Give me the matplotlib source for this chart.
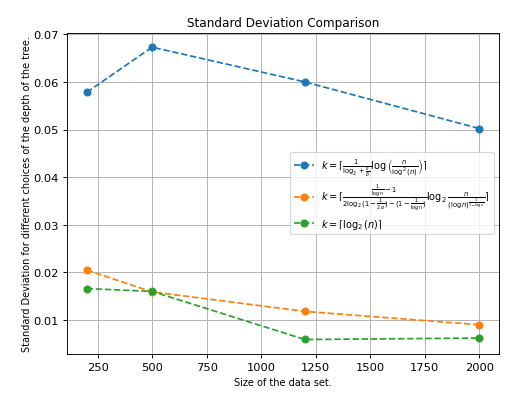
import matplotlib
matplotlib.use("Agg")
import matplotlib.pyplot as plt

# data
sizes = [200, 500, 1200, 2000]
std_blue = [0.0578, 0.0673, 0.0600, 0.0502]
std_orange = [0.0205, 0.0159, 0.0118, 0.0090]
std_green = [0.0166, 0.0160, 0.0059, 0.0062]

label_blue = r"$k = \lceil\frac{1}{\log_2 + \frac{\epsilon}{\delta}}\log\left(\frac{n}{\log^2(n)}\right)\rceil$"
label_orange = (r"$k = \lceil\frac{\frac{1}{\log n} - 1}"
                r"{2\log_2(1 - \frac{1}{2\alpha}) - (1 - \frac{1}{\log n})}"
                r"\log_2\frac{n}{(\log n)^{\frac{1}{1-\log n}}}\rceil$")
label_green = r"$k = \lceil\log_2(n)\rceil$"

fig, ax = plt.subplots(figsize=(6.4, 4.836), dpi=82.5)

ax.plot(sizes, std_blue, "o--", label=label_blue)
ax.plot(sizes, std_orange, "o--", label=label_orange)
ax.plot(sizes, std_green, "o--", label=label_green)

ax.set_title("Standard Deviation Comparison", fontsize=10.5)
ax.set_xlabel("Size of the data set.", fontsize=8.5)
ax.set_ylabel("Standard Deviation for different choices of the depth of the tree.",
              fontsize=8.5, labelpad=1)
ax.grid(True)
ax.legend(loc="center right", fontsize=8.5)

plt.subplots_adjust(left=0.127, right=0.945, top=0.916, bottom=0.110)
plt.savefig("out.png", dpi=82.5)
